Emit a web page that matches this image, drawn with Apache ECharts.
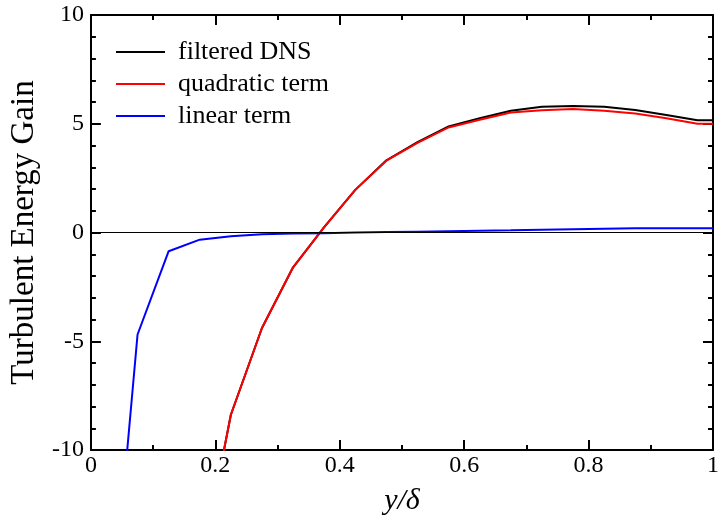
<!DOCTYPE html>
<html>
<head>
<meta charset="UTF-8">
<title>Turbulent Energy Gain</title>
<style>
  * { margin: 0; padding: 0; }
  body { background: #fff; }
  #chart { width: 722px; height: 521px; }
</style>
<script src="https://cdn.jsdelivr.net/npm/echarts@6/dist/echarts.min.js"></script>
</head>
<body>
<div id="chart"></div>
<script>
// data (y/delta positions shared by all series)
const xs = [0.025, 0.075, 0.125, 0.175, 0.225, 0.275, 0.325, 0.375, 0.425, 0.475,
            0.525, 0.575, 0.625, 0.675, 0.725, 0.775, 0.825, 0.875, 0.925, 0.975, 1.0];
const filteredDNS = [null, null, null, -15.7, -8.38, -4.39, -1.6, 0.25, 1.96, 3.32,
                     4.15, 4.88, 5.25, 5.6, 5.78, 5.82, 5.78, 5.63, 5.4, 5.16, 5.16];
const quadraticTerm = [null, null, null, -15.7, -8.38, -4.39, -1.6, 0.25, 1.96, 3.3,
                       4.12, 4.83, 5.18, 5.52, 5.62, 5.68, 5.6, 5.47, 5.25, 5.0, 5.0];
const linearTerm = [-20.7, -4.69, -0.86, -0.33, -0.17, -0.08, -0.05, -0.03, 0.0, 0.02,
                    0.04, 0.06, 0.08, 0.1, 0.13, 0.15, 0.17, 0.19, 0.2, 0.2, 0.2];

const serif = 'Liberation Serif';

function pairs(ys) {
  return xs.map((x, i) => [x, ys[i]]);
}

function frameAxis(extra) {
  return Object.assign({
    type: 'value',
    splitLine: { show: false },
    axisLine: { show: true, onZero: false, lineStyle: { color: '#000', width: 2 } },
    axisTick: { show: true, inside: true, length: 10, lineStyle: { color: '#000', width: 2 } },
    minorSplitLine: { show: false }
  }, extra);
}

const xMinor = { show: true, splitNumber: 2, length: 5, lineStyle: { color: '#000', width: 2 } };
const yMinor = { show: true, splitNumber: 5, length: 5, lineStyle: { color: '#000', width: 2 } };

const chart = echarts.init(document.getElementById('chart'));
chart.setOption({
  animation: false,
  grid: { left: 90, right: 6, top: 15, bottom: 69 },
  legend: {
    orient: 'vertical',
    left: 111,
    top: 34,
    icon: 'rect',
    itemWidth: 49,
    itemHeight: 2,
    itemGap: 6,
    textStyle: { fontFamily: serif, fontSize: 26, lineHeight: 26, color: '#000', padding: [0, 0, 0, 8] },
    data: ['filtered DNS', 'quadratic term', 'linear term']
  },
  xAxis: [
    frameAxis({
      position: 'bottom', min: 0, max: 1, interval: 0.2,
      minorTick: xMinor,
      axisLabel: {
        fontFamily: serif, fontSize: 24, color: '#000', margin: 4,
        formatter: v => String(Math.round(v * 10) / 10)
      },
      name: 'y/δ',
      nameLocation: 'middle',
      nameGap: 36,
      nameTextStyle: { fontFamily: serif, fontStyle: 'italic', fontSize: 30, color: '#000' }
    }),
    frameAxis({
      position: 'top', min: 0, max: 1, interval: 0.2,
      minorTick: xMinor,
      axisLabel: { show: false }
    })
  ],
  yAxis: [
    frameAxis({
      position: 'left', min: -10, max: 10, interval: 5,
      minorTick: yMinor,
      axisLabel: { fontFamily: serif, fontSize: 24, color: '#000', margin: 7 },
      name: 'Turbulent Energy Gain',
      nameLocation: 'middle',
      nameGap: 49,
      nameTextStyle: { fontFamily: serif, fontSize: 33, color: '#000' }
    }),
    frameAxis({
      position: 'right', min: -10, max: 10, interval: 5,
      minorTick: yMinor,
      axisLabel: { show: false }
    })
  ],
  series: [
    {
      name: 'filtered DNS', type: 'line', symbol: 'none',
      data: pairs(filteredDNS),
      lineStyle: { color: '#000', width: 2 }, itemStyle: { color: '#000' },
      markLine: {
        silent: true, symbol: 'none', label: { show: false },
        lineStyle: { color: '#000', width: 1, type: 'solid' },
        data: [{ yAxis: 0 }]
      }
    },
    {
      name: 'quadratic term', type: 'line', symbol: 'none',
      data: pairs(quadraticTerm),
      lineStyle: { color: '#ff0000', width: 2 }, itemStyle: { color: '#ff0000' }
    },
    {
      name: 'linear term', type: 'line', symbol: 'none',
      data: pairs(linearTerm),
      lineStyle: { color: '#0000ff', width: 2 }, itemStyle: { color: '#0000ff' }
    }
  ]
});
</script>
</body>
</html>
